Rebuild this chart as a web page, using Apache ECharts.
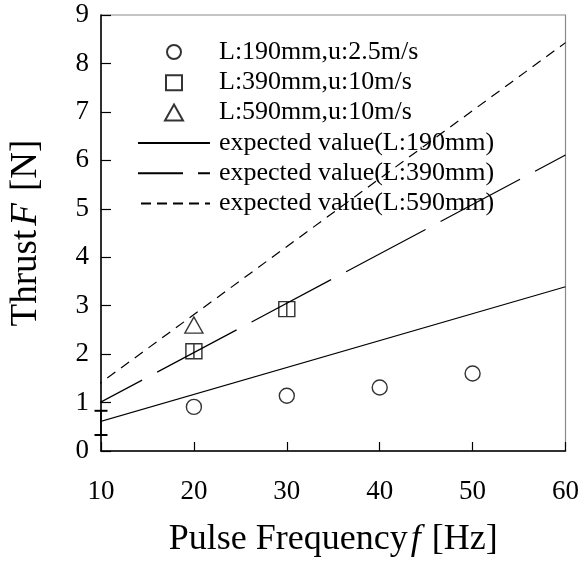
<!DOCTYPE html>
<html>
<head>
<meta charset="utf-8">
<script src="https://cdn.jsdelivr.net/npm/echarts@6/dist/echarts.min.js"></script>
<style>
  html, body { margin: 0; padding: 0; background: #fff; }
  #chart { width: 582px; height: 563px; }
</style>
</head>
<body>
<div id="chart"></div>
<script>
// measured points
const circle190 = [[20, 0.91], [30, 1.14], [40, 1.31], [50, 1.60]]
const square390 = [[20, 2.06], [30, 2.93]]
const triangle590 = [[20, 2.60]]

// expected value lines (end points)
const expected190 = [[9.2, 0.57], [60, 3.39]]
const expected390 = [[9.2, 0.93], [60, 6.11]]
const expected590 = [[9.2, 1.30], [60, 8.43]]

// small bar drawn on the y axis near the origin
const axisBar = [[10, 0.33], [10, 0.83]]

const seriesNames = [
  'L:190mm,u:2.5m/s',
  'L:390mm,u:10m/s',
  'L:590mm,u:10m/s',
  'expected value(L:190mm)',
  'expected value(L:390mm)',
  'expected value(L:590mm)'
]

const FONT = 'Liberation Serif'
const hollow = { color: 'rgba(0,0,0,0)', borderColor: '#000', borderWidth: 1.4 }
const noSymbol = { color: 'rgba(0,0,0,0)', borderColor: 'rgba(0,0,0,0)', borderWidth: 0 }

// legend icons padded to the full icon box so they keep their shape
const legendCircle = 'path://M0,0M72,16M43,8A7,7,0,1,1,29,8A7,7,0,1,1,43,8Z'
const legendSquare = 'path://M0,0M72,16M28,1H44V16H28Z'
const legendTriangle = 'path://M0,0M72,16M36,0L45,16H27Z'

const chart = echarts.init(document.getElementById('chart'))

chart.setOption({
  animation: false,
  backgroundColor: '#fff',
  textStyle: { fontFamily: FONT, color: '#000' },
  grid: {
    left: 99, right: 14, top: 15, bottom: 112,
    show: true, borderColor: '#8a8a8a', borderWidth: 1.2
  },
  legend: {
    orient: 'vertical',
    left: 137,
    top: 39,
    padding: 0,
    itemWidth: 72,
    itemHeight: 16,
    itemGap: 4.3,
    symbolKeepAspect: false,
    textStyle: { fontFamily: FONT, fontSize: 26, color: '#000', padding: [0, 0, 0, 4] },
    data: [
      { name: seriesNames[0], icon: legendCircle },
      { name: seriesNames[1], icon: legendSquare },
      { name: seriesNames[2], icon: legendTriangle },
      { name: seriesNames[3] },
      { name: seriesNames[4], lineStyle: { type: [90, 15], dashOffset: 45 } },
      { name: seriesNames[5], lineStyle: { type: [10, 6] } }
    ]
  },
  xAxis: {
    type: 'value',
    min: 10, max: 60, interval: 10,
    name: 'Pulse Frequency{i|f} [Hz]',
    nameLocation: 'middle',
    nameGap: 71,
    nameTextStyle: {
      fontFamily: FONT, fontSize: 36, color: '#000',
      rich: { i: { fontFamily: FONT, fontSize: 36, fontStyle: 'italic', padding: [0, 2, 0, 3] } }
    },
    axisLine: { lineStyle: { color: '#000', width: 1.5 } },
    axisTick: { inside: true, length: 9, lineStyle: { color: '#000', width: 1.2 } },
    axisLabel: { fontFamily: FONT, fontSize: 27, color: '#000', margin: 27 },
    splitLine: { show: false }
  },
  yAxis: {
    type: 'value',
    min: 0, max: 9, interval: 1,
    name: 'Thrust{i|F} [N]',
    nameLocation: 'middle',
    nameGap: 56,
    nameTextStyle: {
      fontFamily: FONT, fontSize: 37, color: '#000',
      rich: { i: { fontFamily: FONT, fontSize: 37, fontStyle: 'italic', padding: [0, 3, 0, 4] } }
    },
    axisLine: { show: true, lineStyle: { color: '#000', width: 1.5 } },
    axisTick: { inside: true, length: 10, lineStyle: { color: '#000', width: 1.2 } },
    axisLabel: { fontFamily: FONT, fontSize: 27, color: '#000', margin: 12 },
    splitLine: { show: false }
  },
  series: [
    {
      name: seriesNames[3], type: 'line', data: expected190,
      symbol: 'none', clip: false, itemStyle: noSymbol,
      lineStyle: { color: '#000', width: 1.2, type: 'solid' }
    },
    {
      name: seriesNames[4], type: 'line', data: expected390,
      symbol: 'none', clip: false, itemStyle: noSymbol,
      lineStyle: { color: '#000', width: 1.2, type: [90, 17], dashOffset: 35 }
    },
    {
      name: seriesNames[5], type: 'line', data: expected590,
      symbol: 'none', clip: false, itemStyle: noSymbol,
      lineStyle: { color: '#000', width: 1.2, type: [10, 7] }
    },
    {
      name: 'axisBar', type: 'line', data: axisBar,
      symbol: 'rect', symbolSize: [13, 2], clip: false,
      itemStyle: { color: '#000' },
      lineStyle: { color: '#000', width: 1.5 }
    },
    {
      name: seriesNames[0], type: 'scatter', data: circle190,
      symbol: 'circle', symbolSize: 15,
      itemStyle: hollow
    },
    {
      name: seriesNames[1], type: 'scatter', data: square390,
      symbol: 'path://M0,0H16V16H0ZM8,0V16', symbolSize: [16, 15],
      itemStyle: hollow
    },
    {
      name: seriesNames[2], type: 'scatter', data: triangle590,
      symbol: 'triangle', symbolSize: [18, 16],
      itemStyle: hollow
    }
  ]
})

window.addEventListener('resize', () => {
  chart.resize()
})
</script>
</body>
</html>
